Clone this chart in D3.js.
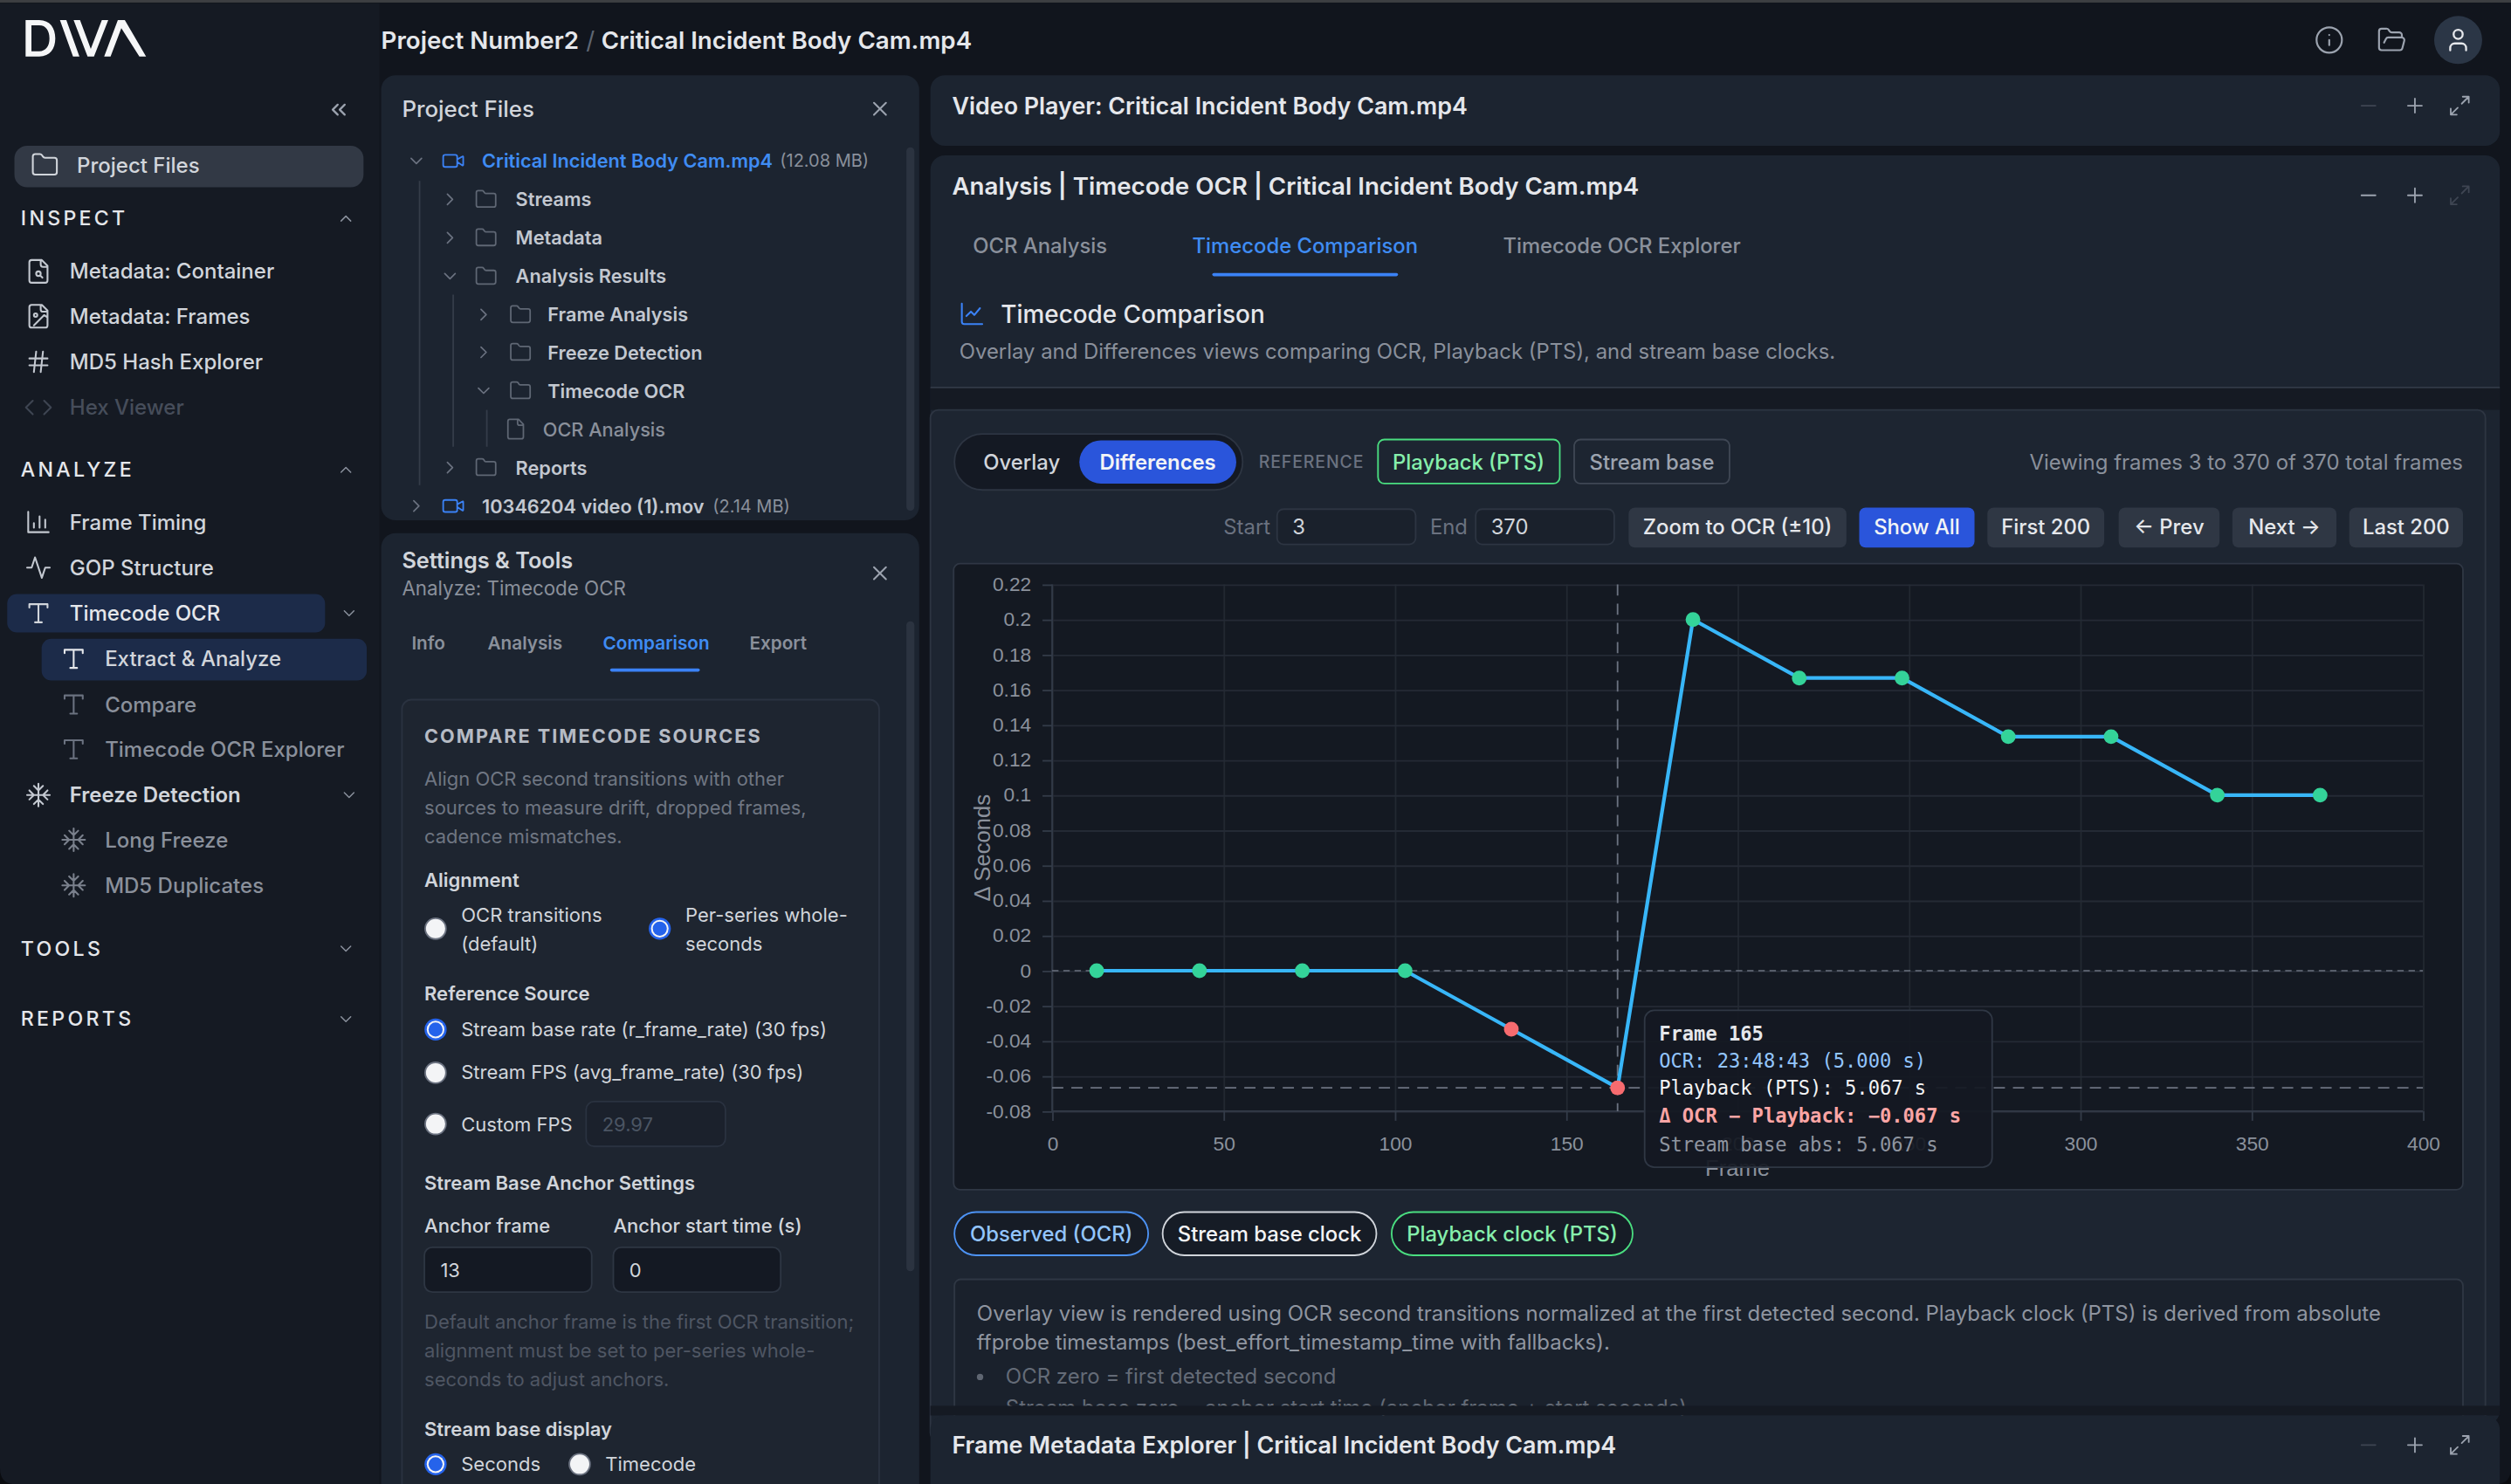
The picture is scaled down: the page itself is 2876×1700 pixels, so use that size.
<!DOCTYPE html>
<html>
<head>
<meta charset="utf-8">
<title>DIVA Timecode Comparison</title>
<style>
  html, body { margin: 0; padding: 0; background: #11151d; }
  svg { display: block; }
  text { font-family: Inter, "Noto Sans", sans-serif; dominant-baseline: central; }
  .axis text { font-family: "Liberation Sans", Inter, sans-serif; font-size: 12.4px; fill: #8b919c; }
  .mono { font-family: "DejaVu Sans Mono", monospace; }
</style>
</head>
<body>
<script src="https://cdn.jsdelivr.net/npm/d3@7"></script>
<script>
// chart values
var frames = [13, 43, 73, 103, 134, 165, 187, 218, 248, 279, 309, 340, 370];
var deltas = [0, 0, 0, 0, -0.0333, -0.0667, 0.2, 0.1667, 0.1667, 0.1333, 0.1333, 0.1, 0.1];
var xTicks = [0, 50, 100, 150, 200, 250, 300, 350, 400];
var yTicks = [0.22, 0.2, 0.18, 0.16, 0.14, 0.12, 0.1, 0.08, 0.06, 0.04, 0.02, 0, -0.02, -0.04, -0.06, -0.08];
var xDomain = [0, 400];
var yDomain = [-0.08, 0.22];
var hoverFrame = 165;
var hoverDelta = -0.0667;

var inspectItems = ["Metadata: Container", "Metadata: Frames", "MD5 Hash Explorer", "Hex Viewer"];
var settingsTabs = ["Info", "Analysis", "Comparison", "Export"];
var legendNames = ["Observed (OCR)", "Stream base clock", "Playback clock (PTS)"];
var navButtons = ["Zoom to OCR (±10)", "Show All", "First 200", "← Prev", "Next →", "Last 200"];

// layout numbers below are in the 1568 wide picture space
var W = 2876, H = 1700, S = W / 1568;

var icons = {
  folder: "M20 20a2 2 0 0 0 2-2V8a2 2 0 0 0-2-2h-7.9a2 2 0 0 1-1.69-.9L9.6 3.9A2 2 0 0 0 7.93 3H4a2 2 0 0 0-2 2v13a2 2 0 0 0 2 2Z",
  open: "m6 14 1.5-2.9A2 2 0 0 1 9.24 10H20a2 2 0 0 1 1.94 2.5l-1.54 6a2 2 0 0 1-1.95 1.5H4a2 2 0 0 1-2-2V5a2 2 0 0 1 2-2h3.9a2 2 0 0 1 1.69.9l.81 1.2a2 2 0 0 0 1.67.9H18a2 2 0 0 1 2 2v2",
  down: "m6 9 6 6 6-6",
  right: "m9 18 6-6-6-6",
  up: "m18 15-6-6-6 6",
  dleft: "m11 17-5-5 5-5M18 17l-5-5 5-5",
  x: "M18 6 6 18M6 6l12 12",
  plus: "M5 12h14M12 5v14",
  minus: "M5 12h14",
  expand: "M21 3l-7 7M3 21l7-7M15 3h6v6M9 21H3v-6",
  video: "m16 13 5.2 3.5a.5.5 0 0 0 .8-.4V7.9a.5.5 0 0 0-.8-.4L16 10.5M4 6h10a2 2 0 0 1 2 2v8a2 2 0 0 1-2 2H4a2 2 0 0 1-2-2V8a2 2 0 0 1 2-2Z",
  file: "M15 2H6a2 2 0 0 0-2 2v16a2 2 0 0 0 2 2h12a2 2 0 0 0 2-2V7ZM14 2v4a2 2 0 0 0 2 2h4",
  fsearch: "M15 2H6a2 2 0 0 0-2 2v16a2 2 0 0 0 2 2h12a2 2 0 0 0 2-2V7ZM14 2v4a2 2 0 0 0 2 2h4M10 14a2 2 0 1 0 4 0a2 2 0 1 0-4 0M13.5 15.5l2 2",
  fimage: "M15 2H6a2 2 0 0 0-2 2v16a2 2 0 0 0 2 2h12a2 2 0 0 0 2-2V7ZM14 2v4a2 2 0 0 0 2 2h4M8 11a1.5 1.5 0 1 0 3 0a1.5 1.5 0 1 0-3 0M20 13l-3-2-9 9",
  hash: "M4 9h16M4 15h16M10 3 8 21M16 3l-2 18",
  code: "m17 18 6-6-6-6M7 6l-6 6 6 6",
  bars: "M3 3v18h18M8 17v-4M13 17V7M18 17v-7",
  pulse: "M22 12h-4l-3 9L9 3l-3 9H2",
  type: "M4 7V4h16v3M9 20h6M12 4v16",
  snow: "M2 12h20M12 2v20M20 16l-4-4 4-4M4 8l4 4-4 4M16 4l-4 4-4-4M8 20l4-4 4 4",
  info: "M2 12a10 10 0 1 0 20 0a10 10 0 1 0-20 0M12 16v-4M12 8h.01",
  user: "M19 21v-2a4 4 0 0 0-4-4H9a4 4 0 0 0-4 4v2M8 7a4 4 0 1 0 8 0a4 4 0 1 0-8 0",
  lines: "M3 3v16a2 2 0 0 0 2 2h16M7 14l4-4 3 3 5-6"
};

var svg = d3.select("body").append("svg").attr("width", W).attr("height", H);
var root = svg.append("g").attr("transform", "scale(" + S + ")");

function box(x0, y0, x1, y1, r, fill, stroke, parent) {
  return (parent || root).append("rect")
    .attr("x", x0).attr("y", y0).attr("width", x1 - x0).attr("height", y1 - y0)
    .attr("rx", r).attr("fill", fill).attr("stroke", stroke || "none").attr("stroke-width", stroke ? 1 : 0);
}

function label(x, y, str, size, fill, weight, anchor, spacing, parent) {
  return (parent || root).append("text")
    .attr("x", x).attr("y", y).text(str)
    .attr("font-size", size).attr("fill", fill)
    .attr("font-weight", weight || 400)
    .attr("text-anchor", anchor || "start")
    .attr("letter-spacing", spacing || 0);
}

function icon(name, cx, cy, size, color, sw) {
  root.append("path")
    .attr("d", icons[name])
    .attr("transform", "translate(" + (cx - size / 2) + "," + (cy - size / 2) + ") scale(" + size / 24 + ")")
    .attr("fill", "none").attr("stroke", color)
    .attr("stroke-width", sw || 2).attr("stroke-linecap", "round").attr("stroke-linejoin", "round");
}

function radio(cx, cy, on) {
  if (on) {
    root.append("circle").attr("cx", cx).attr("cy", cy).attr("r", 6.9).attr("fill", "#2563eb");
    root.append("circle").attr("cx", cx).attr("cy", cy).attr("r", 5.5).attr("fill", "#f3f4f6");
    root.append("circle").attr("cx", cx).attr("cy", cy).attr("r", 4.4).attr("fill", "#2563eb");
  } else {
    root.append("circle").attr("cx", cx).attr("cy", cy).attr("r", 6.5).attr("fill", "#f3f4f6").attr("stroke", "#6b7280").attr("stroke-width", 1);
  }
}

// ---- page frame
box(0, 0, 1568, 927, 0, "#11151d");
box(0, 0, 1568, 1.6, 0, "#3d3f42");
box(0, 2, 237, 927, 0, "#151a23");

// logo
root.append("path")
  .attr("transform", "translate(10.9,7.63) scale(0.1817)")
  .attr("fill", "#f5f6f7").attr("fill-rule", "evenodd")
  .attr("d", "M28 27H75C112 27 130 55 130 90C130 125 112 152 75 152H28ZM48 45H75C98 45 110 64 110 90C110 116 98 134 75 134H48Z" +
    "M146 27H168L213 152H191Z" +
    "M193 27H215L252 126L290 27H312L263 152H241Z" +
    "M345 27H369L442 152H419L357 55L320 152H298Z");

icon("dleft", 211.5, 68.5, 15, "#9ca3af", 2);

// ---- sidebar
box(9, 91, 227, 117, 8, "#323945");
icon("folder", 28, 103, 18, "#d1d5db", 1.5);
label(48, 103.5, "Project Files", 13.1, "#d1d5db", 500);

function section(y, name, chev) {
  label(13, y, name, 12.6, "#e5e7eb", 500, "start", 1.8);
  icon(chev, 216, y, 12, "#8b929e", 1.6);
}
section(136.5, "INSPECT", "up");

var inspectIcons = ["fsearch", "fimage", "hash", "code"];
var inspectRows = [169.5, 197.5, 226, 254.5];
inspectItems.forEach(function(d, i) {
  var dim = i === 3;
  icon(inspectIcons[i], 24, inspectRows[i], 17, dim ? "#3e4552" : "#c3c8d0", 1.6);
  label(43.5, inspectRows[i], d, 13.1, dim ? "#464d5a" : "#d1d5db", 500);
});

section(293.5, "ANALYZE", "up");
icon("bars", 24, 326, 17, "#c3c8d0", 1.6);
label(43.5, 326.5, "Frame Timing", 13.1, "#d1d5db", 500);
icon("pulse", 24, 354.5, 17, "#c3c8d0", 1.6);
label(43.5, 354.5, "GOP Structure", 13.1, "#d1d5db", 500);
box(4.5, 371, 203, 395, 6, "#1c2b49");
icon("type", 24, 383, 17, "#d1d5db", 1.6);
label(43.5, 383, "Timecode OCR", 13.1, "#e5e7eb", 500);
icon("down", 218, 383, 12, "#8b929e", 1.6);
box(26, 399, 229, 425, 6, "#1c2b49");
icon("type", 46, 411.5, 17, "#e5e7eb", 1.6);
label(65.5, 411.5, "Extract & Analyze", 13.1, "#d1d5db", 500);
icon("type", 46, 440, 17, "#6b7280", 1.6);
label(65.5, 440, "Compare", 13.1, "#8a909b", 500);
icon("type", 46, 468, 17, "#6b7280", 1.6);
label(65.5, 468, "Timecode OCR Explorer", 13.1, "#8a909b", 500);
icon("snow", 24, 496.5, 17, "#c3c8d0", 1.6);
label(43.5, 496.5, "Freeze Detection", 13.1, "#d1d5db", 600);
icon("down", 218, 496.5, 12, "#8b929e", 1.6);
icon("snow", 46, 524.5, 17, "#7a808c", 1.6);
label(65.5, 524.5, "Long Freeze", 13.1, "#8a909b", 500);
icon("snow", 46, 553, 17, "#7a808c", 1.6);
label(65.5, 553, "MD5 Duplicates", 13.1, "#8a909b", 500);
section(592.5, "TOOLS", "down");
section(636.5, "REPORTS", "down");

// ---- top bar
label(238, 25, "Project Number2", 15.1, "#e5e7eb", 600);
label(366, 25, "/", 15.1, "#5f6672", 400);
label(375.5, 25, "Critical Incident Body Cam.mp4", 15.1, "#e5e7eb", 600);
icon("info", 1454.5, 25, 19, "#9ca3af", 1.5);
icon("open", 1493.5, 25, 19, "#9ca3af", 1.5);
root.append("circle").attr("cx", 1535).attr("cy", 25).attr("r", 15).attr("fill", "#2b3646");
icon("user", 1535, 25, 17, "#e5e7eb", 1.8);

// ---- project files panel
box(238, 47, 574, 325, 9, "#1c2430");
label(251, 68, "Project Files", 14.1, "#d1d5db", 500);
icon("x", 549.5, 68, 15, "#9ca3af", 1.8);
box(566, 92, 571, 319, 2.5, "#2b3340");

function guide(x, y0, y1) {
  root.append("line").attr("x1", x).attr("x2", x).attr("y1", y0).attr("y2", y1).attr("stroke", "#343c49").attr("stroke-width", 1);
}
guide(262, 113, 303);
guide(283, 184, 279);
guide(304, 256, 279);

function tree(y, chevX, chev, iconName, iconX, textX, str, color, weight) {
  if (chev) icon(chev, chevX, y, 13, "#6b7280", 1.7);
  icon(iconName, iconX, y, iconName === "video" ? 15 : 14.5, iconName === "video" ? "#3b82f6" : "#5f6774", 1.6);
  label(textX, y, str, 11.85, color, weight);
}
tree(100.5, 260, "down", "video", 283, 301, "Critical Incident Body Cam.mp4", "#3f8cf3", 600);
label(487, 100.5, "(12.08 MB)", 10.9, "#8a909b", 400);
tree(124.5, 281, "right", "folder", 303.5, 322, "Streams", "#c3c8d0", 600);
tree(148.5, 281, "right", "folder", 303.5, 322, "Metadata", "#c3c8d0", 600);
tree(172.5, 281, "down", "folder", 303.5, 322, "Analysis Results", "#c3c8d0", 600);
tree(196.5, 302, "right", "folder", 325, 342, "Frame Analysis", "#c3c8d0", 600);
tree(220, 302, "right", "folder", 325, 342, "Freeze Detection", "#c3c8d0", 600);
tree(244, 302, "down", "folder", 325, 342, "Timecode OCR", "#c3c8d0", 600);
tree(268, 0, null, "file", 322, 339, "OCR Analysis", "#8a909b", 500);
tree(292, 281, "right", "folder", 303.5, 322, "Reports", "#c3c8d0", 600);
tree(316, 260, "right", "video", 283, 301, "10346204 video (1).mov", "#c3c8d0", 600);
label(445, 316, "(2.14 MB)", 10.9, "#8a909b", 400);

// ---- settings panel
box(238, 333, 574, 940, 9, "#1c2430");
label(251, 349.5, "Settings & Tools", 13.8, "#d1d5db", 600);
label(251, 367, "Analyze: Timecode OCR", 12.2, "#8a909b", 400);
icon("x", 549.5, 358, 15, "#9ca3af", 1.8);
var tabX = [257, 304.5, 376.5, 468];
settingsTabs.forEach(function(d, i) {
  label(tabX[i], 401.5, d, 11.3, i === 2 ? "#3f8cf3" : "#8a909b", 600);
});
box(381, 417.5, 437, 419.5, 1, "#3b82f6");
box(566, 388, 571, 794, 2.5, "#2b3340");

box(251, 437, 549, 945, 6, "#1e2530", "#2a3240");
label(265, 459.5, "COMPARE TIMECODE SOURCES", 11.8, "#b6bbc4", 700, "start", 1.1);
var gray = "#6f7682";
label(265, 486.5, "Align OCR second transitions with other", 11.97, gray);
label(265, 504.5, "sources to measure drift, dropped frames,", 11.97, gray);
label(265, 522.5, "cadence mismatches.", 11.97, gray);
var strong = "#d1d5db";
label(265, 549.5, "Alignment", 12, strong, 600);
radio(272, 580, false);
label(288, 571.5, "OCR transitions", 12, strong);
label(288, 589.5, "(default)", 12, strong);
radio(412, 580, true);
label(428, 571.5, "Per-series whole-", 12, strong);
label(428, 589.5, "seconds", 12, strong);
label(265, 620.5, "Reference Source", 12, strong, 600);
radio(272, 643, true);
label(288, 643, "Stream base rate (r_frame_rate) (30 fps)", 12, strong);
radio(272, 670, false);
label(288, 669.5, "Stream FPS (avg_frame_rate) (30 fps)", 12, strong);
radio(272, 702, false);
label(288, 702, "Custom FPS", 12, strong);
box(366, 688, 453, 716, 5, "#1b212c", "#2a3240");
label(376, 702, "29.97", 12, "#4b5563");
label(265, 738.5, "Stream Base Anchor Settings", 12, strong, 600);
label(265, 765.5, "Anchor frame", 12, strong, 500);
label(383, 765.5, "Anchor start time (s)", 12, strong, 500);
box(265, 779, 369.5, 807, 5, "#141923", "#2e3643");
label(275, 793, "13", 12, strong);
box(383, 779, 487.5, 807, 5, "#141923", "#2e3643");
label(393, 793, "0", 12, strong);
var dim = "#4f5663";
label(265, 825.5, "Default anchor frame is the first OCR transition;", 12, dim);
label(265, 843.5, "alignment must be set to per-series whole-", 12, dim);
label(265, 861.5, "seconds to adjust anchors.", 12, dim);
label(265, 892.5, "Stream base display", 12, strong, 600);
radio(272, 914.5, true);
label(288, 914.5, "Seconds", 12, strong);
radio(362, 914.5, false);
label(378, 914.5, "Timecode", 12, strong);

// ---- right column panels
function controls(y, minusDim, expandDim) {
  icon("minus", 1479, y, 15, minusDim ? "#3e4552" : "#9ca3af", 1.6);
  icon("plus", 1508, y, 15, "#9ca3af", 1.6);
  icon("expand", 1536, y, 15, expandDim ? "#3e4552" : "#9ca3af", 1.6);
}
box(581, 47, 1561, 91, 9, "#1c2430");
label(594.5, 66, "Video Player: Critical Incident Body Cam.mp4", 14.65, "#e5e7eb", 600);
controls(66, true, false);

box(581, 97, 1561, 890, 9, "#1c2430");
label(594.5, 116, "Analysis | Timecode OCR | Critical Incident Body Cam.mp4", 15.1, "#e5e7eb", 600);
controls(122, false, true);
label(607.5, 153.5, "OCR Analysis", 13, "#8a909b", 500);
label(744.5, 153.5, "Timecode Comparison", 13, "#3f8cf3", 500);
label(938.5, 153.5, "Timecode OCR Explorer", 13, "#8a909b", 500);
box(757, 170.5, 873, 172.5, 1, "#3b82f6");
icon("lines", 607, 196, 17, "#3b82f6", 1.6);
label(625, 196, "Timecode Comparison", 15.2, "#e5e7eb", 500);
label(599, 219.5, "Overlay and Differences views comparing OCR, Playback (PTS), and stream base clocks.", 13.03, "#8a909b");

// dark band under the heading, then the comparison card
box(581, 242, 1561, 256, 0, "#151a23");
root.append("line").attr("x1", 581).attr("x2", 1561).attr("y1", 242).attr("y2", 242).attr("stroke", "#323a47").attr("stroke-width", 1);
box(581, 256, 1552, 900, 5, "#1d2531", "#2d3542");

// controls row
box(596, 271, 776, 306, 17.5, "#141923", "#2d3542");
label(638, 288.5, "Overlay", 13, "#d1d5db", 500, "middle");
box(674, 275, 772, 302, 13.5, "#2a55db");
label(723, 288.5, "Differences", 13, "#f3f4f6", 600, "middle");
label(786, 288.5, "REFERENCE", 10.6, "#6b7280", 500, "start", 0.5);
box(860.5, 274.5, 974, 302, 4, "none", "#4ade80");
label(917, 288.5, "Playback (PTS)", 13, "#86efac", 500, "middle");
box(983, 274.5, 1080, 302, 4, "none", "#3f4754");
label(1031.5, 288.5, "Stream base", 13, "#9ca3af", 500, "middle");
label(1538, 288.5, "Viewing frames 3 to 370 of 370 total frames", 13.05, "#8a909b", 400, "end");

label(764, 329, "Start", 13, "#6b7280");
box(797.5, 318, 884, 340, 4, "#1a212c", "#2d3542");
label(807, 329, "3", 13, "#d1d5db");
label(893, 329, "End", 13, "#6b7280");
box(921.5, 318, 1008, 340, 4, "#1a212c", "#2d3542");
label(931, 329, "370", 13, "#d1d5db");

var navX = [[1017, 1153], [1161, 1233], [1241, 1314], [1323, 1386], [1394, 1459], [1467, 1538]];
navButtons.forEach(function(d, i) {
  var on = i === 1;
  box(navX[i][0], 317, navX[i][1], 342, 4, on ? "#2a55db" : "#2f3744");
  label((navX[i][0] + navX[i][1]) / 2, 329, d, 13, on ? "#f3f4f6" : "#e5e7eb", 500, "middle");
});

// ---- chart
box(595.5, 352, 1538, 743, 4, "#141922", "#2f3744");

var x = d3.scaleLinear().domain(xDomain).range([657, 1513]);
var y = d3.scaleLinear().domain(yDomain).range([694, 365]);

// grid first so the axis lines sit on top
root.append("g").attr("transform", "translate(0,694)")
  .call(d3.axisBottom(x).tickValues(xTicks).tickSize(-329).tickFormat(""))
  .call(function(g) {
    g.select(".domain").remove();
    g.selectAll("line").attr("stroke", "#222831");
  });
root.append("g").attr("transform", "translate(657,0)")
  .call(d3.axisLeft(y).tickValues(yTicks).tickSize(-856).tickFormat(""))
  .call(function(g) {
    g.select(".domain").remove();
    g.selectAll("line").attr("stroke", "#242a35");
  });

var gx = root.append("g").attr("class", "axis").attr("transform", "translate(0,694)")
  .call(d3.axisBottom(x).tickValues(xTicks).tickSize(6).tickFormat(String));
var gy = root.append("g").attr("class", "axis").attr("transform", "translate(657,0)")
  .call(d3.axisLeft(y).tickValues(yTicks).tickSize(6).tickPadding(7).tickFormat(String));
gx.selectAll("line").attr("stroke", "#333b48");
gy.selectAll("line").attr("stroke", "#333b48");
gx.select(".domain").attr("stroke", "#333b48").attr("d", "M657,0H1513");
gy.select(".domain").attr("stroke", "#333b48").attr("d", "M0,365V694");
gx.selectAll("text").attr("dy", 0).attr("y", 20);
gy.selectAll("text").attr("dy", -0.7);

label(0, 0, "Δ Seconds", 14, "#8b919c", 400, "middle")
  .attr("transform", "translate(613.5,529.5) rotate(-90)")
  .style("font-family", "'Liberation Sans', sans-serif");
label(1085, 729.5, "Frame", 14, "#8b919c", 400, "middle")
  .style("font-family", "'Liberation Sans', sans-serif");

// reference lines
var dash = "#6b7280";
root.append("line").attr("x1", x(xDomain[0])).attr("x2", x(xDomain[1])).attr("y1", y(0)).attr("y2", y(0))
  .attr("stroke", dash).attr("stroke-width", 1).attr("stroke-dasharray", "4 3").attr("opacity", 0.75);
root.append("line").attr("x1", x(xDomain[0])).attr("x2", x(xDomain[1])).attr("y1", y(hoverDelta)).attr("y2", y(hoverDelta))
  .attr("stroke", dash).attr("stroke-width", 1).attr("stroke-dasharray", "7 5");
root.append("line").attr("x1", x(hoverFrame)).attr("x2", x(hoverFrame)).attr("y1", y(yDomain[1])).attr("y2", y(yDomain[0]))
  .attr("stroke", dash).attr("stroke-width", 1).attr("stroke-dasharray", "7 5");

var points = frames.map(function(f, i) { return { frame: f, delta: deltas[i] }; });
var line = d3.line()
  .x(function(d) { return x(d.frame); })
  .y(function(d) { return y(d.delta); });

root.append("path").datum(points)
  .attr("d", line).attr("fill", "none")
  .attr("stroke", "#38b6f8").attr("stroke-width", 2.3);

root.selectAll("circle.pt").data(points).enter().append("circle")
  .attr("class", "pt")
  .attr("cx", function(d) { return x(d.frame); })
  .attr("cy", function(d) { return y(d.delta); })
  .attr("r", 4.6)
  .attr("fill", function(d) { return d.delta < 0 ? "#f76b6f" : "#34d399"; });

// tooltip
box(1027, 631, 1244, 729, 6, "rgba(20,25,34,0.93)", "#2f3744");
var tipSize = 12.05;
label(1036, 645.5, "Frame 165", tipSize, "#e5e7eb", 700).attr("class", "mono");
label(1036, 662.5, "OCR: 23:48:43 (5.000 s)", tipSize, "#93c5fd").attr("class", "mono");
label(1036, 679.5, "Playback (PTS): 5.067 s", tipSize, "#f3f4f6").attr("class", "mono");
label(1036, 697, "Δ OCR − Playback: −0.067 s", tipSize, "#fca5a5", 700).attr("class", "mono");
label(1036, 714.5, "Stream base abs: 5.067 s", tipSize, "#8f95a0").attr("class", "mono");

// legend chips
var chipX = [[596, 717], [726, 859.5], [869, 1019.5]];
var chipStroke = ["#4d93f5", "#d1d5db", "#4ade80"];
var chipText = ["#93c5fd", "#f3f4f6", "#86efac"];
legendNames.forEach(function(d, i) {
  box(chipX[i][0], 757, chipX[i][1], 784, 13.5, "#161c26", chipStroke[i]);
  label((chipX[i][0] + chipX[i][1]) / 2, 770.5, d, 13, chipText[i], 500, "middle");
});

// notes box
box(596, 799, 1538, 900, 4, "#1a212c", "#2f3744");
label(610, 820.5, "Overlay view is rendered using OCR second transitions normalized at the first detected second. Playback clock (PTS) is derived from absolute", 13.07, "#8f95a0");
label(610, 838.5, "ffprobe timestamps (best_effort_timestamp_time with fallbacks).", 13.07, "#8f95a0");
root.append("circle").attr("cx", 612).attr("cy", 860).attr("r", 2).attr("fill", "#5f6672");
label(628, 859.5, "OCR zero = first detected second", 13.07, "#646b77");
label(628, 879, "Stream base zero = anchor start time (anchor frame + start seconds)", 13.07, "#646b77");

// bottom panel covers the clipped overflow
box(581, 878, 1561, 884, 0, "#151a23");
box(581, 884, 1561, 940, 9, "#1c2430");
label(594.5, 902.5, "Frame Metadata Explorer | Critical Incident Body Cam.mp4", 14.65, "#e5e7eb", 600);
controls(902.5, true, false);

// window corners
root.append("path").attr("d", "M0 917Q0 927 10 927H0Z").attr("fill", "#0a0c10");
root.append("path").attr("d", "M1568 917Q1568 927 1558 927H1568Z").attr("fill", "#0a0c10");
</script>
</body>
</html>
